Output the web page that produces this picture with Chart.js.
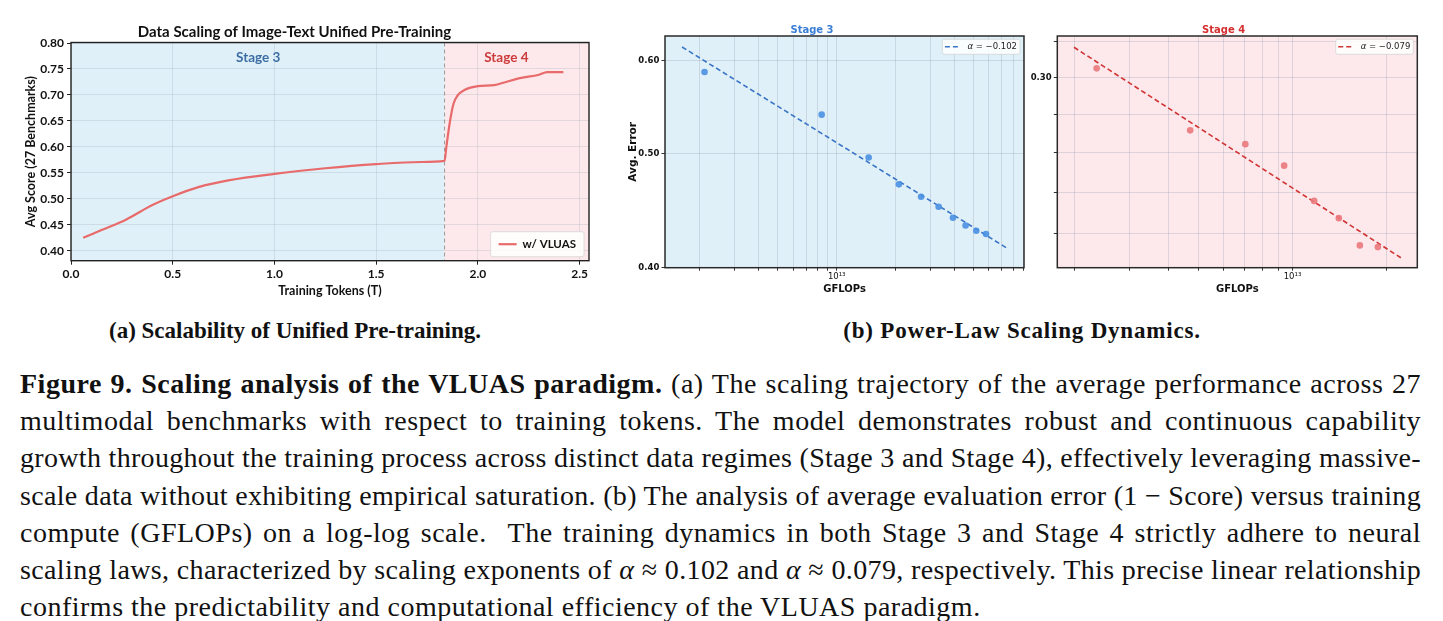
<!DOCTYPE html>
<html><head><meta charset="utf-8">
<script src="https://cdn.jsdelivr.net/npm/chart.js@4.4.1/dist/chart.umd.min.js"></script>
<style>
html,body{margin:0;padding:0;background:#fff;width:1443px;height:621px;overflow:hidden;position:relative}
canvas{position:absolute;top:0}
#c1{left:0}#c2{left:600px}#c3{left:1030px}
.sub{position:absolute;top:319px;font-family:"Liberation Serif",serif;font-weight:bold;font-size:23px;line-height:24px;white-space:nowrap;transform:translateX(-50%);color:#111}
#cap{position:absolute;left:20px;top:365px;width:1402px;font-family:"Liberation Serif",serif;font-size:28px;line-height:37.2px;color:#111}
#cap div{white-space:nowrap;height:37.2px}
#cap span{display:inline-block;white-space:nowrap;letter-spacing:0.5px}
</style></head>
<body>
<canvas id="c1" width="660" height="310"></canvas>
<canvas id="c2" width="489" height="310"></canvas>
<canvas id="c3" width="415" height="310"></canvas>
<div class="sub" style="left:295px">(a) Scalability of Unified Pre-training.</div>
<div class="sub" style="left:1022px;letter-spacing:0.8px">(b) Power-Law Scaling Dynamics.</div>
<div id="cap">
<div><span><b>Figure 9. Scaling analysis of the VLUAS paradigm.</b> (a) The scaling trajectory of the average performance across 27</span></div>
<div><span>multimodal benchmarks with respect to training tokens. The model demonstrates robust and continuous capability</span></div>
<div><span>growth throughout the training process across distinct data regimes (Stage 3 and Stage 4), effectively leveraging massive-</span></div>
<div><span>scale data without exhibiting empirical saturation. (b) The analysis of average evaluation error (1 − Score) versus training</span></div>
<div><span>compute (GFLOPs) on a log-log scale. &nbsp;The training dynamics in both Stage 3 and Stage 4 strictly adhere to neural</span></div>
<div><span>scaling laws, characterized by scaling exponents of <i>α</i> ≈ 0.102 and <i>α</i> ≈ 0.079, respectively. This precise linear relationship</span></div>
<div class="last"><span>confirms the predictability and computational efficiency of the VLUAS paradigm.</span></div>
</div>
<script>
// justify caption lines to the full width (last line left-aligned)
(function(){
  const W = 1401;
  document.querySelectorAll('#cap div').forEach(d => {
    if (d.classList.contains('last')) return;
    const s = d.querySelector('span');
    const text = s.textContent;
    let w = s.getBoundingClientRect().width;
    if (w > W) {
      s.style.letterSpacing = (0.5 + (W - w) / text.length) + 'px';
      w = s.getBoundingClientRect().width;
    }
    const spaces = (text.match(/[ \u00a0]/g) || []).length;
    if (spaces > 0 && w < W) s.style.wordSpacing = ((W - w) / spaces) + 'px';
  });
})();

// ---------- (a) data ----------
const tokens = [0.06, 0.15, 0.27, 0.40, 0.50, 0.63, 0.78, 1.00, 1.25, 1.50, 1.72, 1.836, 1.845, 1.861, 1.880, 1.900, 1.936, 2.00, 2.08, 2.13, 2.20, 2.30, 2.34, 2.42];
const scores = [0.425, 0.440, 0.460, 0.488, 0.505, 0.523, 0.536, 0.548, 0.559, 0.567, 0.571, 0.573, 0.600, 0.645, 0.683, 0.699, 0.710, 0.717, 0.719, 0.724, 0.732, 0.739, 0.744, 0.744];
const xTicksA = [0, 0.5, 1.0, 1.5, 2.0, 2.5];
const yTicksA = [0.40, 0.45, 0.50, 0.55, 0.60, 0.65, 0.70, 0.75, 0.80];
const stageBoundary = 1.836;
const stageNames = ['Stage 3', 'Stage 4'];
const stageLabelX = [0.92, 2.14];
const stageLabelY = 0.7725;

// ---------- (b) data ----------
const gflops3 = [2.11e12, 8.38e12, 1.457e13, 2.08e13, 2.70e13, 3.32e13, 3.93e13, 4.56e13, 5.17e13, 5.80e13];
const error3  = [0.587, 0.540, 0.4964, 0.471, 0.4597, 0.4508, 0.4411, 0.4345, 0.4300, 0.4273];
const fitX3 = [1.62e12, 7.53e13];
const fitY3 = [0.6166, 0.4150];
const alpha3 = -0.102;
const gflops4 = [2.358e12, 4.70e12, 7.06e12, 9.40e12, 1.173e13, 1.407e13, 1.643e13, 1.876e13];
const error4  = [0.3025, 0.2858, 0.2822, 0.2767, 0.2679, 0.2637, 0.2572, 0.2568];
const fitX4 = [1.995e12, 2.223e13];
const fitY4 = [0.3084, 0.2543];
const alpha4 = -0.079;
const xTicks3 = [2e12,3e12,4e12,5e12,6e12,7e12,8e12,9e12,1e13,2e13,3e13,4e13,5e13,6e13,7e13,8e13,9e13];
const yTicks3 = [0.40, 0.50, 0.60];
const xTicks4 = [2e12,3e12,4e12,5e12,6e12,7e12,8e12,9e12,1e13,2e13];
const yTicks4 = [0.26, 0.27, 0.28, 0.29, 0.30, 0.31];
const labeledY4 = [0.30];

// ---------- plugins ----------
const bgPlugin = {
  id: 'bg',
  beforeDraw(chart, args, o) {
    const {ctx, chartArea: a} = chart;
    ctx.save();
    if (o.split !== undefined) {
      const xs = chart.scales.x.getPixelForValue(o.split);
      ctx.fillStyle = o.left; ctx.fillRect(a.left, a.top, xs - a.left, a.bottom - a.top);
      ctx.fillStyle = o.right; ctx.fillRect(xs, a.top, a.right - xs, a.bottom - a.top);
    } else {
      ctx.fillStyle = o.color; ctx.fillRect(a.left, a.top, a.right - a.left, a.bottom - a.top);
    }
    ctx.restore();
  },
  beforeDatasetsDraw(chart, args, o) {
    if (o.split === undefined) return;
    const {ctx, chartArea: a} = chart;
    const xs = chart.scales.x.getPixelForValue(o.split);
    ctx.save();
    ctx.strokeStyle = '#9a9a9a'; ctx.lineWidth = 1; ctx.setLineDash([4, 3]);
    ctx.beginPath(); ctx.moveTo(xs, a.top); ctx.lineTo(xs, a.bottom); ctx.stroke();
    ctx.restore();
  },
  afterDatasetsDraw(chart, args, o) {
    if (!o.labels) return;
    const {ctx} = chart;
    ctx.save();
    ctx.font = 'bold 13.5px Lato';
    ctx.textAlign = 'center'; ctx.textBaseline = 'middle';
    o.labels.forEach((t, i) => {
      ctx.fillStyle = o.labelColors[i];
      ctx.fillText(t, chart.scales.x.getPixelForValue(o.labelX[i]), chart.scales.y.getPixelForValue(o.labelY));
    });
    ctx.restore();
  }
};
const framePlugin = {
  id: 'frame',
  afterDraw(chart, args, o) {
    const {ctx, chartArea: a} = chart;
    ctx.save();
    ctx.strokeStyle = o.color; ctx.lineWidth = o.width;
    ctx.strokeRect(a.left, a.top, a.right - a.left, a.bottom - a.top);
    ctx.restore();
  }
};
const legendPlugin = {
  id: 'legendBox',
  afterDraw(chart, args, o) {
    const {ctx, chartArea: a} = chart;
    ctx.save();
    let tw = 0;
    o.parts.forEach(p => { ctx.font = p.font; tw += ctx.measureText(p.text).width; });
    const w = o.padL + o.lineLen + o.gap + tw + o.padR;
    const h = o.h;
    const x = a.right - o.marginR - w;
    const y = o.anchor === 'bottom' ? a.bottom - o.marginB - h : a.top + o.marginT;
    ctx.beginPath();
    ctx.roundRect(x, y, w, h, 2);
    ctx.fillStyle = 'rgba(255,255,255,0.85)'; ctx.fill();
    ctx.strokeStyle = 'rgba(210,210,210,0.9)'; ctx.lineWidth = 0.8; ctx.stroke();
    const cy = y + h / 2;
    ctx.strokeStyle = o.color; ctx.lineWidth = o.lw; ctx.setLineDash(o.dash || []);
    ctx.beginPath(); ctx.moveTo(x + o.padL, cy); ctx.lineTo(x + o.padL + o.lineLen, cy); ctx.stroke();
    let tx = x + o.padL + o.lineLen + o.gap;
    ctx.textBaseline = 'middle'; ctx.fillStyle = o.textColor;
    o.parts.forEach(p => { ctx.font = p.font; ctx.fillText(p.text, tx, cy); tx += ctx.measureText(p.text).width; });
    ctx.restore();
  }
};
Chart.register(bgPlugin, framePlugin, legendPlugin);

const setTicks = arr => s => { s.ticks = arr.map(v => ({value: v})); };

// ---------- chart (a) ----------
const fA = 'Lato';
new Chart(document.getElementById('c1'), {
  type: 'line',
  data: { datasets: [{
    label: 'w/ VLUAS',
    data: tokens.map((t, i) => ({x: t, y: scores[i]})),
    borderColor: '#e86a6a', borderWidth: 2.2, pointRadius: 0,
    cubicInterpolationMode: 'monotone', fill: false
  }]},
  options: {
    responsive: false, animation: false, events: [],
    layout: { padding: { left: 0, right: 71, top: 0, bottom: 0 } },
    plugins: {
      legend: { display: false }, tooltip: { enabled: false },
      title: { display: true, text: 'Data Scaling of Image-Text Unified Pre-Training', color: '#111',
               font: { family: fA, weight: 'bold', size: 15 }, padding: { top: 23.5, bottom: 1 } },
      bg: { split: stageBoundary, left: '#dff0f8', right: '#fde8ec',
            labels: stageNames, labelX: stageLabelX, labelY: stageLabelY, labelColors: ['#3c6ea3', '#cc3b3b'] },
      frame: { color: '#222', width: 1.4 },
      legendBox: { parts: [{ text: 'w/ VLUAS', font: 'bold 11.5px Lato' }], textColor: '#111',
                   color: '#e86a6a', lw: 2.2, padL: 8, lineLen: 18, gap: 6, padR: 8, h: 25,
                   anchor: 'bottom', marginR: 5, marginB: 4 }
    },
    scales: {
      x: { type: 'linear', min: 0, max: 2.546,
           afterBuildTicks: setTicks(xTicksA),
           afterFit: s => { s.height = 49.3; },
           ticks: { callback: v => v.toFixed(1), color: '#111', font: { family: fA, weight: 'bold', size: 12 }, padding: 2, maxRotation: 0, autoSkip: false },
           grid: { color: 'rgba(150,165,180,0.25)', tickColor: '#222', tickLength: 4 },
           border: { display: false },
           title: { display: true, text: 'Training Tokens (T)', color: '#111', font: { family: fA, weight: 'bold', size: 12.5 }, padding: { top: 0, bottom: 11.5 } } },
      y: { type: 'linear', min: 0.381, max: 0.801,
           afterBuildTicks: setTicks(yTicksA),
           afterFit: s => { s.width = 71; },
           ticks: { callback: v => v.toFixed(2), color: '#111', font: { family: fA, weight: 'bold', size: 12 }, padding: 3, autoSkip: false },
           grid: { color: 'rgba(150,165,180,0.25)', tickColor: '#222', tickLength: 4 },
           border: { display: false },
           title: { display: true, text: 'Avg Score (27 Benchmarks)', color: '#111', font: { family: fA, weight: 'bold', size: 12.5 }, padding: { top: 23.5, bottom: 0 } } }
    }
  }
});

// ---------- power-law charts ----------
const fB = 'DejaVu Sans';
function powerChart(id, opt) {
  return new Chart(document.getElementById(id), {
    type: 'scatter',
    data: { datasets: [
      { type: 'scatter', data: opt.xs.map((x, i) => ({x, y: opt.ys[i]})), backgroundColor: opt.pointColor,
        borderWidth: 0, pointRadius: 3.3, order: 1 },
      { type: 'line', data: opt.fitX.map((x, i) => ({x, y: opt.fitY[i]})), borderColor: opt.lineColor,
        borderWidth: 1.6, borderDash: [5, 3], pointRadius: 0, fill: false, order: 2 }
    ]},
    options: {
      responsive: false, animation: false, events: [],
      layout: { padding: { left: 0, right: opt.padR, top: 0, bottom: 0 } },
      plugins: {
        legend: { display: false }, tooltip: { enabled: false },
        title: { display: true, text: opt.title, color: opt.titleColor, font: { family: fB, weight: 'bold', size: 10 }, padding: { top: 24, bottom: 0 } },
        bg: { color: opt.bg },
        frame: { color: '#2a2a2a', width: 1.5 },
        legendBox: { parts: [{ text: 'α', font: 'italic 8.5px "DejaVu Sans"' }, { text: ' = −' + Math.abs(opt.alpha).toFixed(3), font: '8.5px "DejaVu Sans"' }],
                     textColor: '#222', color: opt.lineColor, dash: [5, 3], lw: 1.6,
                     padL: 2.5, lineLen: 16, gap: 6.5, padR: 3, h: 15, anchor: 'top', marginR: 4, marginT: 3.3 }
      },
      scales: {
        x: { type: 'logarithmic', min: opt.xmin, max: opt.xmax,
             afterBuildTicks: setTicks(opt.xTicks),
             afterFit: s => { s.height = 42.3; },
             ticks: { callback: v => (v === 1e13 ? '10¹³' : ''), color: '#111', font: { family: fB, size: 8.5 }, padding: 1, maxRotation: 0, autoSkip: false },
             grid: { color: 'rgba(150,160,175,0.3)', tickColor: '#333', tickLength: 3 },
             border: { display: false },
             title: { display: true, text: 'GFLOPs', color: '#111', font: { family: fB, weight: 'bold', size: 10 }, padding: { top: 0, bottom: 15 } } },
        y: { type: 'logarithmic', min: opt.ymin, max: opt.ymax,
             afterBuildTicks: setTicks(opt.yTicks),
             afterFit: s => { s.width = opt.yW; },
             ticks: { callback: opt.yLabel, color: '#111', font: { family: fB, weight: 'bold', size: 8.5 }, padding: 2.2, autoSkip: false },
             grid: { color: 'rgba(150,160,175,0.3)', tickColor: '#333', tickLength: 3.5 },
             border: { display: false },
             title: { display: opt.yTitle !== '', text: opt.yTitle, color: '#111', font: { family: fB, weight: 'bold', size: 10.5 }, padding: { top: 27, bottom: 0 } } }
      }
    }
  });
}

powerChart('c2', {
  xs: gflops3, ys: error3, fitX: fitX3, fitY: fitY3, alpha: alpha3,
  pointColor: 'rgba(74,144,226,0.9)', lineColor: '#3a74c6', bg: '#dff0f8',
  title: 'Stage 3', titleColor: '#3a7fd5', yTitle: 'Avg. Error',
  xmin: 1.325e12, xmax: 9.07e13, ymin: 0.40, ymax: 0.63,
  xTicks: xTicks3, yTicks: yTicks3, yLabel: v => v.toFixed(2), yW: 65, padR: 65
});
powerChart('c3', {
  xs: gflops4, ys: error4, fitX: fitX4, fitY: fitY4, alpha: alpha4,
  pointColor: 'rgba(234,120,124,0.9)', lineColor: '#d23434', bg: '#fde8ec',
  title: 'Stage 4', titleColor: '#d62f2f', yTitle: '',
  xmin: 1.764e12, xmax: 2.51e13, ymin: 0.252, ymax: 0.3116,
  xTicks: xTicks4, yTicks: yTicks4, yLabel: v => (labeledY4.some(l => Math.abs(l - v) < 1e-9) ? v.toFixed(2) : ''), yW: 27.3, padR: 27.7
});
</script>
</body></html>
